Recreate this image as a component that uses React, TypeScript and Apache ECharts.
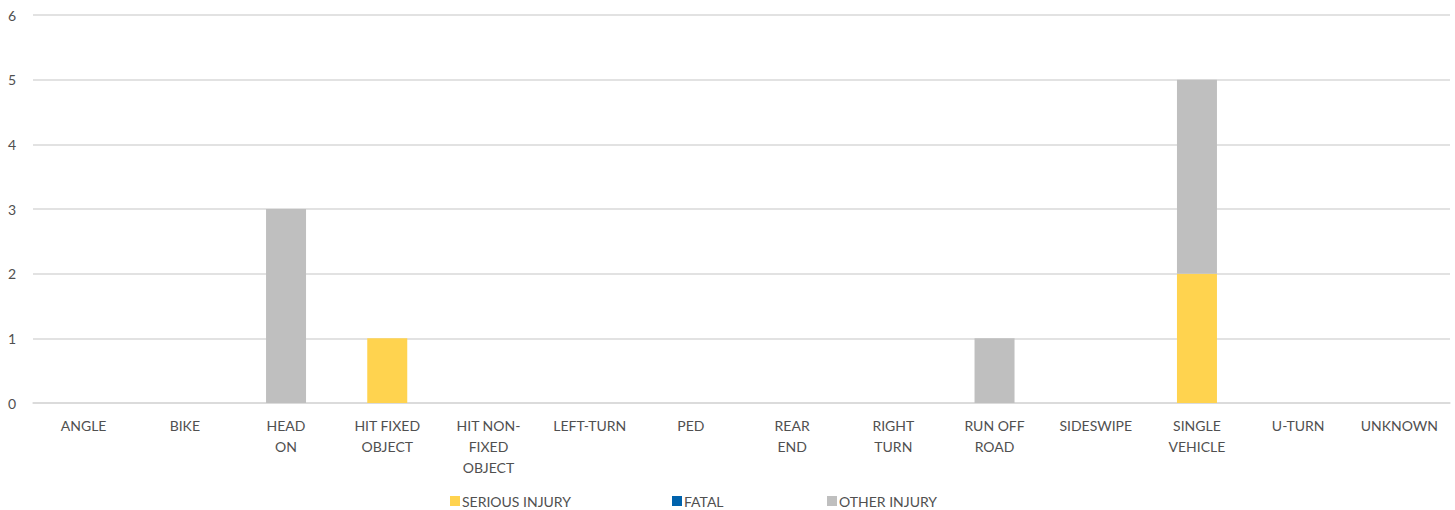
import React, { useEffect, useRef } from "react";
import * as echarts from "echarts";

const categories = [
  "ANGLE", "BIKE", "HEAD\nON", "HIT FIXED\nOBJECT", "HIT NON-\nFIXED\nOBJECT", "LEFT-TURN", "PED",
  "REAR\nEND", "RIGHT\nTURN", "RUN OFF\nROAD", "SIDESWIPE", "SINGLE\nVEHICLE", "U-TURN", "UNKNOWN",
];
const seriousInjury = [0, 0, 0, 1, 0, 0, 0, 0, 0, 0, 0, 2, 0, 0];
const fatal = [0, 0, 0, 0, 0, 0, 0, 0, 0, 0, 0, 0, 0, 0];
const otherInjury = [0, 0, 3, 0, 0, 0, 0, 0, 0, 1, 0, 3, 0, 0];

const FONT = "Lato, 'Open Sans', sans-serif";
const TXT = "#505050";

export default function App() {
  const ref = useRef<HTMLDivElement>(null);
  useEffect(() => {
    if (!ref.current) return;
    const chart = echarts.init(ref.current, null, { renderer: "svg" });
    const legendText = { color: TXT, fontSize: 14, fontFamily: FONT, padding: [0, 0, 0, -3] };
    const mkLegend = (name: string, left: number) => ({
      data: [name],
      left,
      top: 494,
      padding: 0,
      itemWidth: 10,
      itemHeight: 10,
      itemGap: 4,
      icon: "rect",
      textStyle: legendText,
    });
    chart.setOption({
      animation: false,
      textStyle: { fontFamily: FONT },
      grid: { left: 33, right: 5, top: 15, bottom: 107, containLabel: false },
      legend: [
        mkLegend("SERIOUS INJURY", 450),
        mkLegend("FATAL", 672),
        mkLegend("OTHER INJURY", 827),
      ],
      xAxis: {
        type: "category",
        data: categories,
        axisLine: { show: true, lineStyle: { color: "#D9D9D9", width: 1.5 } },
        axisTick: { show: false },
        axisLabel: {
          color: TXT,
          fontSize: 14,
          fontFamily: FONT,
          lineHeight: 21,
          margin: 12,
          interval: 0,
        },
      },
      yAxis: {
        type: "value",
        min: 0,
        max: 6,
        interval: 1,
        axisLine: { show: false },
        axisTick: { show: false },
        axisLabel: { color: TXT, fontSize: 14, fontFamily: FONT, margin: 17 },
        splitLine: { lineStyle: { color: "#D9D9D9", width: 1.5 } },
      },
      series: [
        { name: "SERIOUS INJURY", type: "bar", stack: "a", data: seriousInjury, barWidth: 40, itemStyle: { color: "#FFD34F" } },
        { name: "FATAL", type: "bar", stack: "a", data: fatal, barWidth: 40, itemStyle: { color: "#0062AC" } },
        { name: "OTHER INJURY", type: "bar", stack: "a", data: otherInjury, barWidth: 40, itemStyle: { color: "#BFBFBF" } },
      ],
    });
    return () => chart.dispose();
  }, []);
  return (
    <div
      ref={ref}
      style={{ position: "fixed", left: 0, top: 0, width: 1455, height: 510, background: "#fff" }}
    />
  );
}
